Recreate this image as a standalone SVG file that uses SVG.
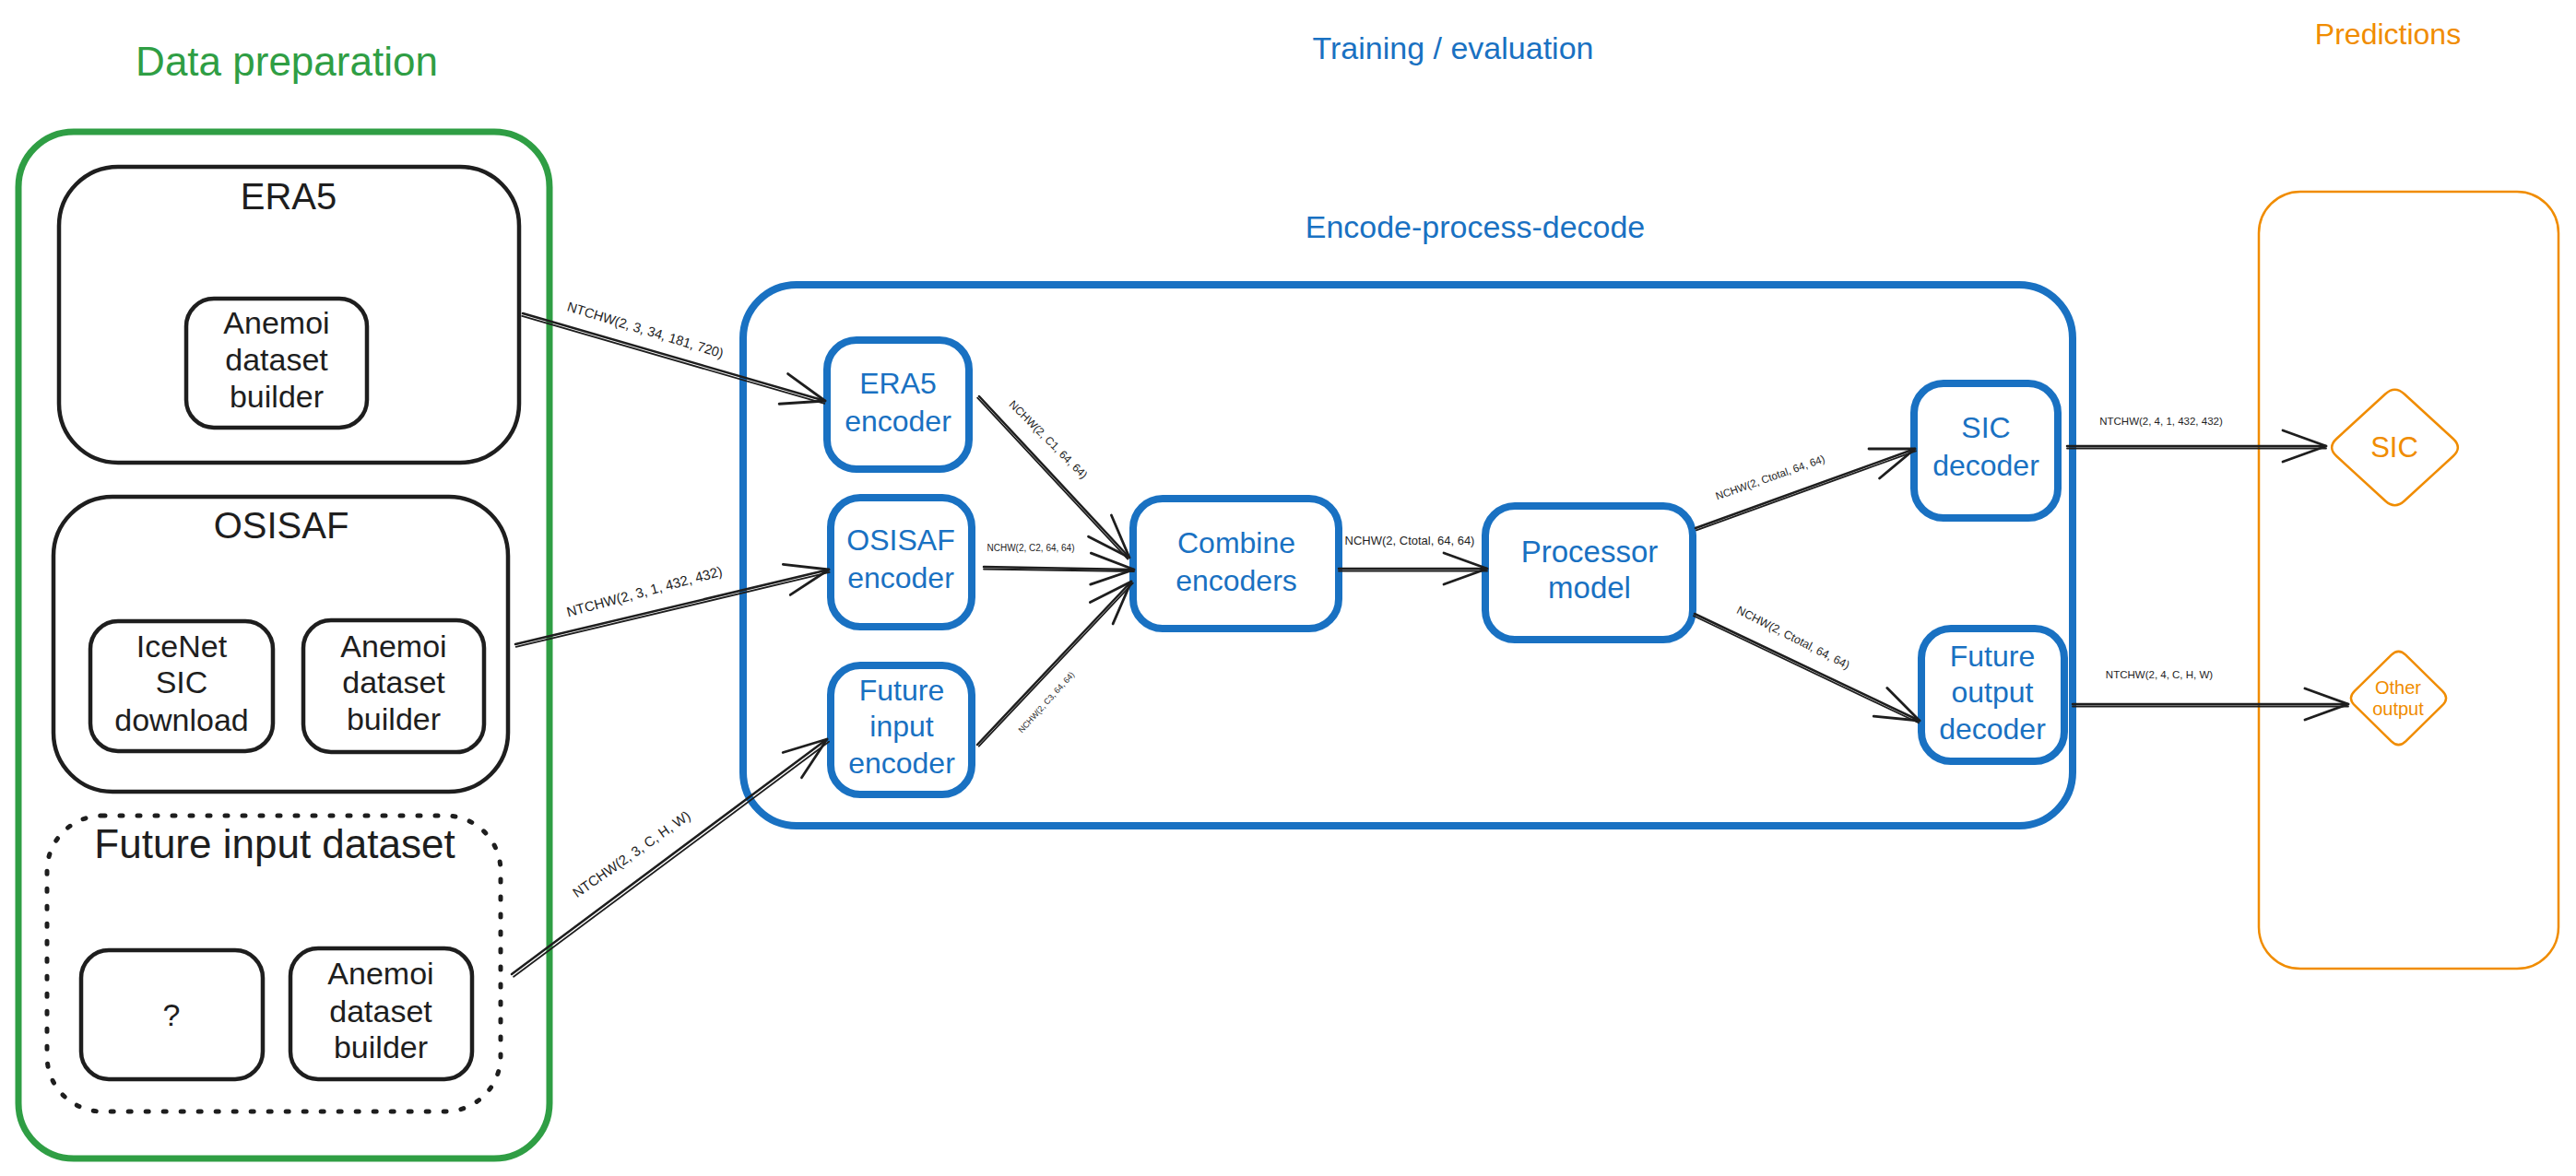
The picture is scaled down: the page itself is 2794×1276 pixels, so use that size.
<svg xmlns="http://www.w3.org/2000/svg" width="2794" height="1276" viewBox="0 0 2794 1276">
<defs>
<style>
text{font-family:"Liberation Sans",Arial,sans-serif;text-anchor:middle}
.bk{fill:#1e1e1e}
.bl{fill:#1971c2}
.gr{fill:#2f9e44}
.or{fill:#f08c00}
.gbox{fill:none;stroke:#2f9e44;stroke-width:7}
.kbox{fill:none;stroke:#1e1e1e;stroke-width:4.5}
.kdot{fill:none;stroke:#1e1e1e;stroke-width:5;stroke-dasharray:3 16;stroke-linecap:round}
.bbox{fill:none;stroke:#1971c2;stroke-width:8}
.bnode{fill:#fff;stroke:#1971c2;stroke-width:8}
.obox{fill:none;stroke:#f08c00;stroke-width:2.5}
.head{font-size:34px}
.nt{font-size:34px}
.bt{font-size:32px}
.cl{fill:#1e1e1e}
.ln{fill:none;stroke:#1e1e1e;stroke-width:2.5;stroke-linecap:round}
.ln2{fill:none;stroke:#1e1e1e;stroke-width:1.8;stroke-linecap:round}
</style>
<marker id="ah" viewBox="-52 -22 56 44" markerWidth="56" markerHeight="44" refX="0" refY="0" orient="auto" markerUnits="userSpaceOnUse" overflow="visible">
<path d="M-47,-17 L0,0 L-47,17" fill="none" stroke="#1e1e1e" stroke-width="2.8" stroke-linecap="round" stroke-linejoin="round"/>
</marker>
</defs>
<rect width="2794" height="1276" fill="#ffffff"/>

<!-- Section headers -->
<g id="headers">
<text class="gr" x="311" y="82" style="font-size:44px">Data preparation</text>
<text class="bl head" x="1576" y="64">Training / evaluation</text>
<text class="bl head" x="1600" y="258">Encode-process-decode</text>
<text class="or" x="2590" y="48" style="font-size:32px">Predictions</text>
</g>

<!-- Data preparation -->
<g id="data-preparation">
<rect class="gbox" x="20" y="143" width="576" height="1114" rx="60"/>
</g>
<g id="era5">
<rect class="kbox" x="64" y="181" width="499" height="321" rx="64"/>
<text class="bk" x="313" y="227" style="font-size:40px">ERA5</text>
</g>
<g id="era5-anemoi">
<rect class="kbox" x="202" y="324" width="196" height="140" rx="30"/>
<text class="bk nt" x="300" y="362">Anemoi</text>
<text class="bk nt" x="300" y="402">dataset</text>
<text class="bk nt" x="300" y="442">builder</text>
</g>
<g id="osisaf">
<rect class="kbox" x="58" y="539" width="493" height="320" rx="64"/>
<text class="bk" x="305" y="584" style="font-size:40px">OSISAF</text>
</g>
<g id="icenet">
<rect class="kbox" x="98" y="674" width="198" height="141" rx="30"/>
<text class="bk nt" x="197" y="713">IceNet</text>
<text class="bk nt" x="197" y="752">SIC</text>
<text class="bk nt" x="197" y="793">download</text>
</g>
<g id="osisaf-anemoi">
<rect class="kbox" x="329" y="673" width="196" height="143" rx="30"/>
<text class="bk nt" x="427" y="713">Anemoi</text>
<text class="bk nt" x="427" y="752">dataset</text>
<text class="bk nt" x="427" y="792">builder</text>
</g>
<g id="future-input-dataset">
<rect class="kdot" x="51" y="885" width="492" height="321" rx="60"/>
<text class="bk" x="298" y="931" style="font-size:44px">Future input dataset</text>
</g>
<g id="unknown-source">
<rect class="kbox" x="88" y="1031" width="197" height="140" rx="30"/>
<text class="bk nt" x="186" y="1113">?</text>
</g>
<g id="future-anemoi">
<rect class="kbox" x="315" y="1029" width="197" height="142" rx="30"/>
<text class="bk nt" x="413" y="1068">Anemoi</text>
<text class="bk nt" x="413" y="1109">dataset</text>
<text class="bk nt" x="413" y="1148">builder</text>
</g>

<!-- Encode-process-decode -->
<g id="encode-process-decode">
<rect class="bbox" x="806" y="309" width="1442" height="587" rx="58"/>
</g>
<g id="era5-encoder">
<rect class="bnode" x="897" y="369" width="154" height="140" rx="32"/>
<text class="bl bt" x="974" y="427">ERA5</text>
<text class="bl bt" x="974" y="468">encoder</text>
</g>
<g id="osisaf-encoder">
<rect class="bnode" x="901" y="540" width="153" height="140" rx="32"/>
<text class="bl bt" x="977" y="597">OSISAF</text>
<text class="bl bt" x="977" y="638">encoder</text>
</g>
<g id="future-input-encoder">
<rect class="bnode" x="901" y="722" width="153" height="140" rx="32"/>
<text class="bl bt" x="978" y="760">Future</text>
<text class="bl bt" x="978" y="799">input</text>
<text class="bl bt" x="978" y="839">encoder</text>
</g>
<g id="combine-encoders">
<rect class="bnode" x="1229" y="541" width="223" height="141" rx="32"/>
<text class="bl bt" x="1341" y="600">Combine</text>
<text class="bl bt" x="1341" y="641">encoders</text>
</g>
<g id="processor-model">
<rect class="bnode" x="1611" y="549" width="225" height="145" rx="32"/>
<text class="bl" x="1724" y="610" style="font-size:33px">Processor</text>
<text class="bl" x="1724" y="649" style="font-size:33px">model</text>
</g>
<g id="sic-decoder">
<rect class="bnode" x="2076" y="416" width="156" height="146" rx="32"/>
<text class="bl bt" x="2154" y="475">SIC</text>
<text class="bl bt" x="2154" y="516">decoder</text>
</g>
<g id="future-output-decoder">
<rect class="bnode" x="2084" y="682" width="155" height="144" rx="32"/>
<text class="bl bt" x="2161" y="723">Future</text>
<text class="bl bt" x="2161" y="762">output</text>
<text class="bl bt" x="2161" y="802">decoder</text>
</g>

<!-- Predictions -->
<g id="predictions">
<rect class="obox" x="2450" y="208" width="325" height="843" rx="45"/>
</g>
<g id="sic-output">
<path class="obox" d="M2587.2,427.5 Q2597.5,418 2607.8,427.5 L2660.7,476 Q2671,485.5 2660.7,495 L2607.8,543.5 Q2597.5,553 2587.2,543.5 L2534.3,495 Q2524,485.5 2534.3,476 Z"/>
<text class="or" x="2597" y="496" style="font-size:31px">SIC</text>
</g>
<g id="other-output">
<path class="obox" d="M2593.7,710.7 Q2601.5,703 2609.3,710.7 L2649.2,749.8 Q2657,757.5 2649.2,765.2 L2609.3,804.3 Q2601.5,812 2593.7,804.3 L2553.8,765.2 Q2546,757.5 2553.8,749.8 Z"/>
<text class="or" x="2601" y="753" style="font-size:20px">Other</text>
<text class="or" x="2601" y="776" style="font-size:20px">output</text>
</g>

<!-- Connectors -->
<g id="connectors">
<path class="ln" d="M567,340 L895,435" marker-end="url(#ah)"/>
<path class="ln2" d="M566.2,342.9 L894.2,437.9"/>
<text class="cl" transform="translate(700,358) rotate(17)" y="5" style="font-size:14.5px">NTCHW(2, 3, 34, 181, 720)</text>

<path class="ln" d="M559,699 L899,618" marker-end="url(#ah)"/>
<path class="ln2" d="M559.7,701.9 L899.7,620.9"/>
<text class="cl" transform="translate(699,642) rotate(-15)" y="5" style="font-size:15px">NTCHW(2, 3, 1, 432, 432)</text>

<path class="ln" d="M555,1057 L897,802" marker-end="url(#ah)"/>
<path class="ln2" d="M557.1,1059.8 L899.1,804.8"/>
<text class="cl" transform="translate(685,927) rotate(-35)" y="5" style="font-size:15px">NTCHW(2, 3, C, H, W)</text>

<path class="ln" d="M1062,430 L1225,605" marker-end="url(#ah)"/>
<path class="ln2" d="M1060.2,431.7 L1223.2,606.7"/>
<text class="cl" transform="translate(1137,477) rotate(45)" y="4" style="font-size:12px">NCHW(2, C1, 64, 64)</text>

<path class="ln" d="M1067,615 L1230,618" marker-end="url(#ah)"/>
<path class="ln2" d="M1067,617.5 L1230,620"/>
<text class="cl" x="1118" y="598" style="font-size:10px">NCHW(2, C2, 64, 64)</text>

<path class="ln" d="M1060,808 L1227,631" marker-end="url(#ah)"/>
<path class="ln2" d="M1061.8,809.7 L1228.8,632.7"/>
<text class="cl" transform="translate(1135,762) rotate(-48)" y="3" style="font-size:9px">NCHW(2, C3, 64, 64)</text>

<path class="ln" d="M1452,617 L1613,617" marker-end="url(#ah)"/>
<path class="ln2" d="M1452,619.5 L1613,619.5"/>
<text class="cl" x="1529" y="591" style="font-size:13px">NCHW(2, Ctotal, 64, 64)</text>

<path class="ln" d="M1839,573 L2077,487" marker-end="url(#ah)"/>
<path class="ln2" d="M1839.9,575.3 L2077.9,489.3"/>
<text class="cl" transform="translate(1920,518) rotate(-19.5)" y="4" style="font-size:11.5px">NCHW(2, Ctotal, 64, 64)</text>

<path class="ln" d="M1838,666 L2082,782" marker-end="url(#ah)"/>
<path class="ln2" d="M1836.9,668.3 L2080.9,784.3"/>
<text class="cl" transform="translate(1945,692) rotate(27)" y="4" style="font-size:12.5px">NCHW(2, Ctotal, 64, 64)</text>

<path class="ln" d="M2242,484 L2523,484" marker-end="url(#ah)"/>
<path class="ln2" d="M2242,486.5 L2523,486.5"/>
<text class="cl" x="2344" y="461" style="font-size:11.5px">NTCHW(2, 4, 1, 432, 432)</text>

<path class="ln" d="M2248,764 L2547,764" marker-end="url(#ah)"/>
<path class="ln2" d="M2248,766.5 L2547,766.5"/>
<text class="cl" x="2342" y="736" style="font-size:11.5px">NTCHW(2, 4, C, H, W)</text>
</g>
</svg>
